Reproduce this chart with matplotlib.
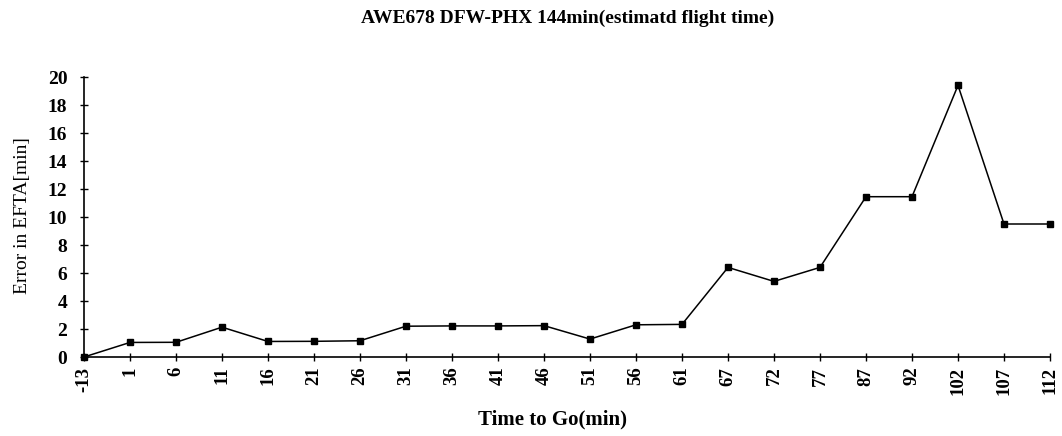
import matplotlib
matplotlib.use("Agg")
import matplotlib.pyplot as plt

categories = ["-13", "1", "6", "11", "16", "21", "26", "31", "36", "41", "46",
              "51", "56", "61", "67", "72", "77", "87", "92", "102", "107", "112"]
errors = [0.0, 1.04, 1.05, 2.13, 1.11, 1.12, 1.16, 2.2, 2.22, 2.22, 2.24,
          1.28, 2.3, 2.33, 6.4, 5.4, 6.4, 11.45, 11.45, 19.4, 9.5, 9.5]
yticks = [0, 2, 4, 6, 8, 10, 12, 14, 16, 18, 20]

title = "AWE678 DFW-PHX 144min(estimatd flight time)"
xlabel = "Time to Go(min)"
ylabel = "Error in EFTA[min]"

plt.rcParams['font.family'] = ['Liberation Serif', 'DejaVu Serif']

fig = plt.figure(figsize=(10.62, 4.36), dpi=100)
ax = fig.add_axes([84/1062, 1 - 357/436, (1050 - 84)/1062, (357 - 77)/436])

x = list(range(len(categories)))
ax.plot(x, errors, color="black", linewidth=1.1, marker="s", markersize=5,
        markerfacecolor="black", markeredgecolor="black", clip_on=False, zorder=3)

ax.set_xlim(0, len(categories) - 1)
ax.set_ylim(0, 20)
ax.set_xticks(x)
ax.set_xticklabels(categories, rotation=90, fontsize=13.5, fontweight="bold")
ax.set_yticks(yticks)
ax.set_yticklabels([str(v) for v in yticks], fontsize=14, fontweight="bold")

for s in ["top", "right"]:
    ax.spines[s].set_visible(False)
for s in ["left", "bottom"]:
    ax.spines[s].set_linewidth(1.2)
ax.tick_params(axis="both", direction="inout", length=6, width=1.0, color="black")
ax.tick_params(axis="x", pad=4)
ax.tick_params(axis="y", pad=9)

fig.text(568/1062, 1 - 18/436, title, ha="center", va="center", fontsize=14,
         fontweight="bold")
fig.text(553/1062, 1 - 419/436, xlabel, ha="center", va="center", fontsize=15,
         fontweight="bold")
fig.text(23/1062, 1 - 216/436, ylabel, ha="center", va="center", fontsize=14,
         rotation=90)

fig.savefig("out.png", dpi=100)
